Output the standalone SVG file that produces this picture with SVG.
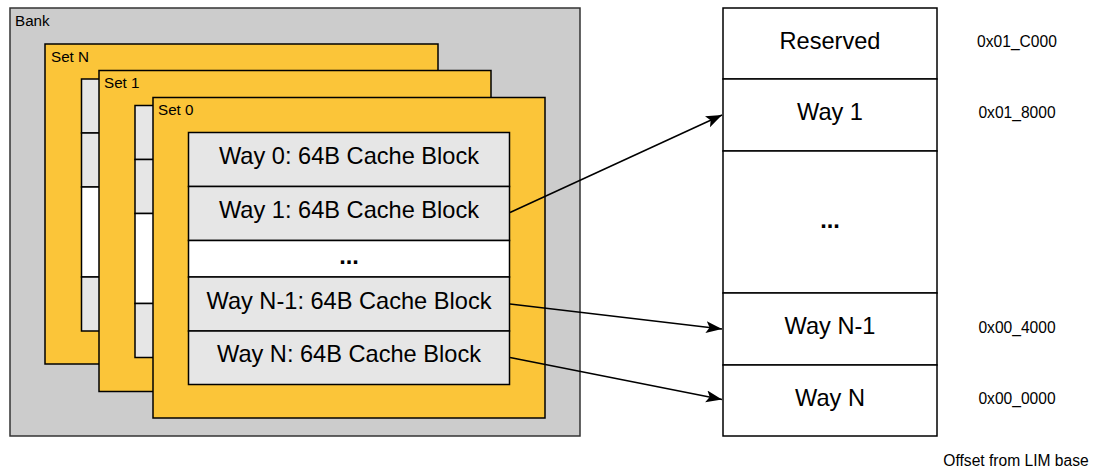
<svg xmlns="http://www.w3.org/2000/svg" width="1096" height="470" viewBox="0 0 1096 470">
<style>
.bank{fill:#cccccc;stroke:#333333;stroke-width:1.5}
.set{fill:#fbc539;stroke:#000;stroke-width:1.5}
.cell{fill:#e6e6e6;stroke:#000;stroke-width:1.5}
.wcell{fill:#ffffff;stroke:#000;stroke-width:1.5}
.mcell{fill:#ffffff;stroke:#000;stroke-width:1.5}
.lbl{font-family:"Liberation Sans",Arial,sans-serif;font-size:15.2px;fill:#000}
.big{font-family:"Liberation Sans",Arial,sans-serif;font-size:23.6px;fill:#000;text-anchor:middle}
.addr{font-family:"Liberation Sans",Arial,sans-serif;font-size:15.6px;fill:#000;text-anchor:middle}
.conn{stroke:#000;stroke-width:1.5;fill:none}
</style>
<defs>
<marker id="arr" markerUnits="userSpaceOnUse" markerWidth="18" markerHeight="13" refX="16" refY="6" orient="auto">
<path d="M0,0 L16,6 L0,12 L3.5,6 z" fill="#000"/>
</marker>
</defs>
<rect width="1096" height="470" fill="#ffffff"/>
<g id="bank">
<rect class="bank" x="10" y="8" width="570" height="428"/>
<text class="lbl" x="15" y="25.5">Bank</text>
</g>
<g id="set-n">
<rect class="set" x="45" y="44" width="393" height="320"/>
<text class="lbl" x="51" y="61.5">Set N</text>
<rect class="cell" x="81.5" y="79" width="30" height="54"/>
<rect class="cell" x="81.5" y="133" width="30" height="54"/>
<rect class="wcell" x="81.5" y="187" width="30" height="90"/>
<rect class="cell" x="81.5" y="277" width="30" height="54"/>
</g>
<g id="set-1">
<rect class="set" x="99" y="70.5" width="392" height="321"/>
<text class="lbl" x="104" y="88">Set 1</text>
<rect class="cell" x="135" y="105.5" width="30" height="54"/>
<rect class="cell" x="135" y="159.5" width="30" height="54"/>
<rect class="wcell" x="135" y="213.5" width="30" height="90"/>
<rect class="cell" x="135" y="303.5" width="30" height="54"/>
</g>
<g id="set-0">
<rect class="set" x="153" y="97.5" width="392" height="320.5"/>
<text class="lbl" x="158" y="115">Set 0</text>
</g>
<g id="way0">
<rect class="cell" x="188.5" y="132.5" width="321" height="54"/>
<text class="big" x="349" y="164">Way 0: 64B Cache Block</text>
</g>
<g id="way1">
<rect class="cell" x="188.5" y="186.5" width="321" height="54"/>
<text class="big" x="349" y="218">Way 1: 64B Cache Block</text>
</g>
<g id="way-dots">
<rect class="wcell" x="188.5" y="240.5" width="321" height="36.5"/>
<text class="big" x="349" y="264" font-weight="bold">...</text>
</g>
<g id="wayn1">
<rect class="cell" x="188.5" y="277" width="321" height="54"/>
<text class="big" x="349" y="309">Way N-1: 64B Cache Block</text>
</g>
<g id="wayn">
<rect class="cell" x="188.5" y="331" width="321" height="53.5"/>
<text class="big" x="349" y="362">Way N: 64B Cache Block</text>
</g>
<g id="m-reserved">
<rect class="mcell" x="723" y="8" width="214" height="71"/>
<text class="big" x="830" y="48.5">Reserved</text>
</g>
<g id="m-way1">
<rect class="mcell" x="723" y="79" width="214" height="72"/>
<text class="big" x="830" y="120">Way 1</text>
</g>
<g id="m-dots">
<rect class="mcell" x="723" y="151" width="214" height="142"/>
<text class="big" x="830" y="228" font-weight="bold">...</text>
</g>
<g id="m-wayn1">
<rect class="mcell" x="723" y="293" width="214" height="72"/>
<text class="big" x="830" y="334">Way N-1</text>
</g>
<g id="m-wayn">
<rect class="mcell" x="723" y="365" width="214" height="71"/>
<text class="big" x="830" y="406">Way N</text>
</g>
<g id="addresses">
<text class="addr" x="1017" y="47">0x01_C000</text>
<text class="addr" x="1017" y="118">0x01_8000</text>
<text class="addr" x="1017" y="332.5">0x00_4000</text>
<text class="addr" x="1017" y="403.5">0x00_0000</text>
<text class="addr" x="1016" y="466">Offset from LIM base</text>
</g>
<g id="connectors">
<line class="conn" x1="510" y1="212.5" x2="722" y2="115" marker-end="url(#arr)"/>
<line class="conn" x1="510" y1="304" x2="722" y2="329" marker-end="url(#arr)"/>
<line class="conn" x1="510" y1="357.5" x2="722" y2="399.5" marker-end="url(#arr)"/>
</g>
</svg>
